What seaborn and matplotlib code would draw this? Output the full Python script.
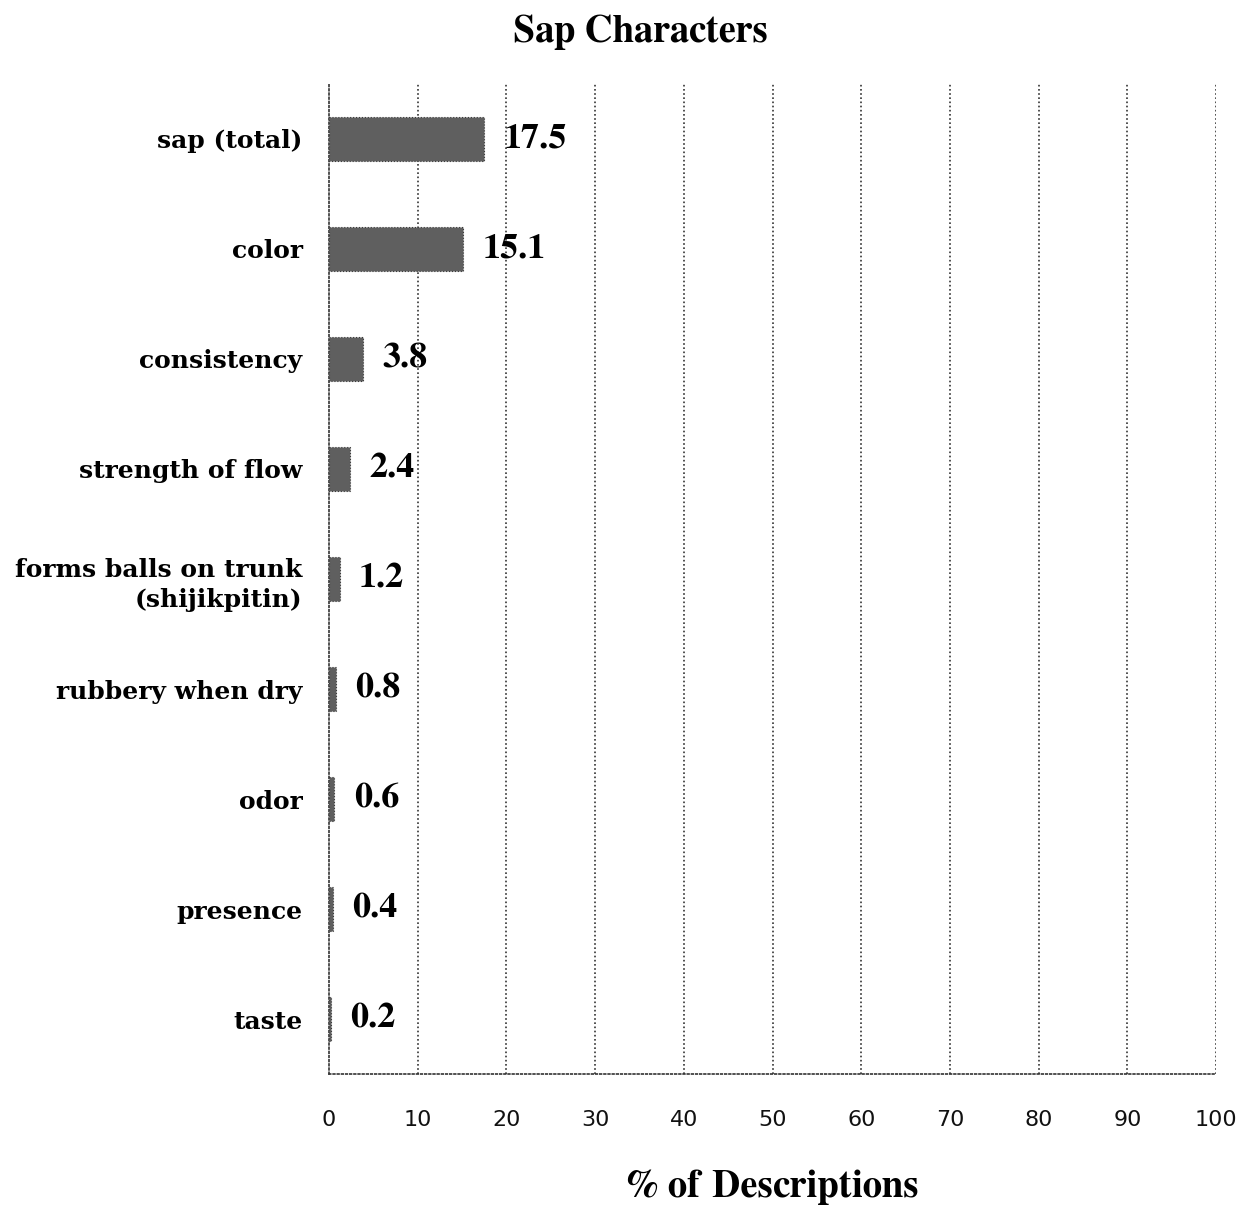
import numpy as np
import pandas as pd
import matplotlib
matplotlib.use('Agg')
import matplotlib.pyplot as plt
import seaborn as sns

# data
categories = ['sap (total)', 'color', 'consistency', 'strength of flow',
              'forms balls on trunk\n(shijikpitin)', 'rubbery when dry',
              'odor', 'presence', 'taste']
values = [17.5, 15.1, 3.8, 2.4, 1.2, 0.8, 0.6, 0.4, 0.2]
x_ticks = [0, 10, 20, 30, 40, 50, 60, 70, 80, 90, 100]

df = pd.DataFrame({'character': categories, 'pct': values})

sns.set_style('white')
fig = plt.figure(figsize=(12.42, 12.05), dpi=100)
ax = fig.add_axes([0.2649, 0.1087, 0.7142, 0.8216])

sns.barplot(data=df, x='pct', y='character', orient='h', color='#5f5f5f',
            width=0.4, saturation=1, ax=ax, zorder=3)
for p in ax.patches:
    p.set_edgecolor('#3a3a3a')
    p.set_linewidth(0.8)
    p.set_linestyle(':')

ax.set_xlim(0, 100)
ax.set_ylim(len(categories) - 0.5, -0.5)
ax.set_xticks(x_ticks)
ax.set_xticklabels([str(t) for t in x_ticks], fontsize=16,
                   family='DejaVu Sans', color='#111111')
ax.set_yticks(range(len(categories)))
ax.set_yticklabels(categories, fontsize=18, family='DejaVu Serif',
                   fontweight='bold', color='black', linespacing=1.35)
ax.tick_params(axis='y', length=0, pad=19)
ax.tick_params(axis='x', length=6, pad=20, color='#444444')

# small ticks on y at category boundaries
ax.set_yticks(np.arange(-0.5, len(categories), 1), minor=True)
ax.tick_params(axis='y', which='minor', length=6, color='#444444')

# dotted vertical grid
for t in x_ticks[1:]:
    ax.axvline(t, color='#333333', linestyle=(0, (1, 1.5)), linewidth=1.2,
               zorder=1)

for side in ['top', 'right']:
    ax.spines[side].set_visible(False)
for side in ['left', 'bottom']:
    ax.spines[side].set_linestyle((0, (1, 1.5)))
    ax.spines[side].set_linewidth(1.2)
    ax.spines[side].set_color('#333333')

for i, v in enumerate(values):
    ax.annotate(f'{v:.1f}', xy=(v, i), xytext=(14, 0),
                textcoords='offset points', va='center', ha='left',
                family='FreeSerif', fontweight='bold', fontsize=26,
                color='black')

ax.set_ylabel('')
ax.set_xlabel('% of Descriptions', family='FreeSerif', fontweight='bold',
              fontsize=28, color='black', labelpad=28)
fig.text(0.516, 0.973, 'Sap Characters', ha='center', va='center',
         family='FreeSerif', fontweight='bold', fontsize=28, color='black')

fig.savefig('out.png', dpi=100)
